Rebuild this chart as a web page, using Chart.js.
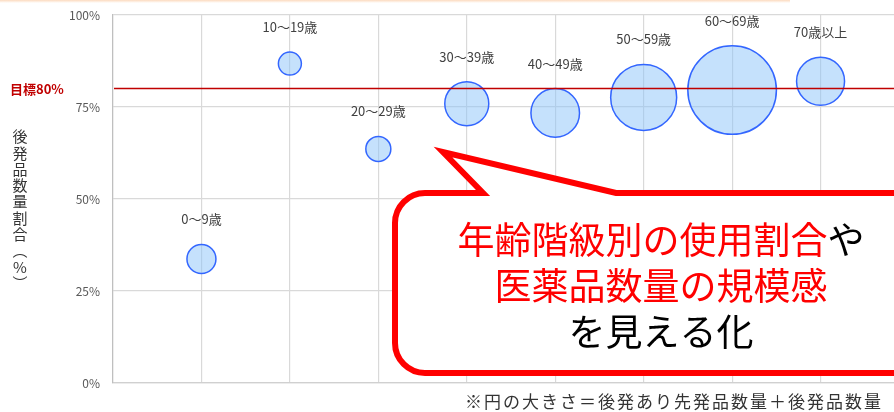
<!DOCTYPE html>
<html lang="ja">
<head>
<meta charset="utf-8">
<title>年齢階級別 後発品数量割合</title>
<script src="https://cdn.jsdelivr.net/npm/chart.js@4.4.1/dist/chart.umd.min.js"></script>
<style>
    html, body { margin: 0; padding: 0; background: #ffffff; overflow: hidden; }
    #wrap { position: relative; width: 930px; height: 412px; }
    #topStrip {
        position: absolute; left: 0; top: 0; width: 790px; height: 3px;
        background: linear-gradient(to bottom, rgba(250, 190, 140, 0.55), rgba(250, 190, 140, 0));
    }
</style>
</head>
<body>
<div id="wrap">
    <canvas id="bubbleChart"></canvas>
    <div id="topStrip"></div>
</div>
<script>
// Data
const ageGroups = ['0〜9歳', '10〜19歳', '20〜29歳', '30〜39歳', '40〜49歳', '50〜59歳', '60〜69歳', '70歳以上'];
const groupPositions = [1, 2, 3, 4, 5, 6, 7, 8];
const genericShare = [33.7, 86.8, 63.6, 75.9, 73.4, 77.6, 79.6, 82.0];   // 後発品数量割合 (%)
const bubbleRadius = [14.5, 11.5, 12.5, 22, 24.3, 33, 44.3, 24];       // 円の大きさ (px)
const yTickValues = [0, 25, 50, 75, 100];
const targetRate = 80;

const axisTitleChars = ['後', '発', '品', '数', '量', '割', '合', '︵', '%', '︶'];
const calloutLines = [
    [{ text: '年齢階級別の使用割合', color: '#ff0000' }, { text: 'や', color: '#000000' }],
    [{ text: '医薬品数量の規模感', color: '#ff0000' }],
    [{ text: 'を見える化', color: '#000000' }]
];
const footNote = '※円の大きさ＝後発あり先発品数量＋後発品数量';

const FONT = '"Noto Sans CJK JP", "Noto Sans", sans-serif';

// Target line, labels and callout drawn on top of the chart
const overlayPlugin = {
    id: 'overlay',
    afterDatasetsDraw(chart) {
        const ctx = chart.ctx;
        const area = chart.chartArea;
        const yTarget = chart.scales.y.getPixelForValue(targetRate);

        ctx.save();
        // 目標ライン
        ctx.strokeStyle = '#c00000';
        ctx.lineWidth = 1.5;
        ctx.beginPath();
        ctx.moveTo(area.left + 1, yTarget);
        ctx.lineTo(area.right, yTarget);
        ctx.stroke();

        ctx.fillStyle = '#c00000';
        ctx.font = 'bold 13px ' + FONT;
        ctx.textAlign = 'left';
        ctx.textBaseline = 'middle';
        ctx.fillText('目標' + targetRate + '%', 10, yTarget);

        // bubble labels
        const meta = chart.getDatasetMeta(0);
        ctx.font = '13px ' + FONT;
        ctx.fillStyle = '#404040';
        ctx.textAlign = 'center';
        meta.data.forEach((pt, i) => {
            ctx.fillText(ageGroups[i], pt.x, pt.y - bubbleRadius[i] - 25);
        });

        // vertical axis title
        ctx.font = '15px ' + FONT;
        ctx.fillStyle = '#333333';
        axisTitleChars.forEach((ch, i) => {
            ctx.fillText(ch, 20, 136.5 + i * 16.3);
        });
        ctx.restore();
    },
    afterDraw(chart) {
        const ctx = chart.ctx;
        ctx.save();
        drawCallout(ctx);

        // foot note
        ctx.font = '17px ' + FONT;
        ctx.fillStyle = '#333333';
        ctx.textAlign = 'left';
        ctx.textBaseline = 'middle';
        ctx.letterSpacing = '2px';
        ctx.fillText(footNote, 465, 402);
        ctx.restore();
    }
};

function drawCallout(ctx) {
    const left = 395, top = 193, right = 929, bottom = 373, r = 30;

    ctx.beginPath();
    ctx.moveTo(left + r, top);
    ctx.lineTo(483, top);
    ctx.lineTo(443, 152);
    ctx.lineTo(616, top);
    ctx.lineTo(right - r, top);
    ctx.arcTo(right, top, right, top + r, r);
    ctx.lineTo(right, bottom - r);
    ctx.arcTo(right, bottom, right - r, bottom, r);
    ctx.lineTo(left + r, bottom);
    ctx.arcTo(left, bottom, left, bottom - r, r);
    ctx.lineTo(left, top + r);
    ctx.arcTo(left, top, left + r, top, r);
    ctx.closePath();
    ctx.fillStyle = '#ffffff';
    ctx.fill();
    ctx.lineJoin = 'miter';
    ctx.strokeStyle = '#ff0000';
    ctx.lineWidth = 6;
    ctx.stroke();

    ctx.font = '37px ' + FONT;
    ctx.textAlign = 'left';
    ctx.textBaseline = 'middle';
    const centerX = 661;
    const lineY = [240, 286, 332];
    calloutLines.forEach((parts, i) => {
        const total = parts.reduce((w, p) => w + ctx.measureText(p.text).width, 0);
        let x = centerX - total / 2;
        parts.forEach(p => {
            ctx.fillStyle = p.color;
            ctx.fillText(p.text, x, lineY[i]);
            x += ctx.measureText(p.text).width;
        });
    });
}

function initializeChart() {
    const ctx = document.getElementById('bubbleChart');
    const points = groupPositions.map((x, i) => ({ x: x, y: genericShare[i], r: bubbleRadius[i] }));

    new Chart(ctx.getContext('2d'), {
        type: 'bubble',
        data: {
            datasets: [{
                label: '後発品数量割合',
                data: points,
                backgroundColor: 'rgba(140, 195, 250, 0.5)',
                borderColor: '#3366ff',
                borderWidth: 1.5
            }]
        },
        options: {
            responsive: true,
            maintainAspectRatio: false,
            animation: false,
            layout: {
                autoPadding: false,
                padding: { top: 15, right: 21, left: 0, bottom: 0 }
            },
            plugins: {
                legend: { display: false },
                tooltip: { enabled: false }
            },
            scales: {
                x: {
                    type: 'linear',
                    min: 0,
                    max: 9,
                    ticks: { display: false, stepSize: 1 },
                    grid: { color: '#d9d9d9', lineWidth: 1.2, drawTicks: false },
                    border: { color: '#d0d0d0', width: 1.2 },
                    afterFit(scale) {
                        scale.height = 29;
                        scale.paddingLeft = 0;
                        scale.paddingRight = 0;
                    }
                },
                y: {
                    min: 0,
                    max: 100,
                    afterBuildTicks(scale) {
                        scale.ticks = yTickValues.map(v => ({ value: v }));
                    },
                    ticks: {
                        padding: 13,
                        color: '#595959',
                        font: { family: FONT, size: 12 },
                        callback: v => v + '%'
                    },
                    grid: { color: '#d9d9d9', lineWidth: 1.2, drawTicks: false },
                    border: { color: '#bfbfbf', width: 1.2 },
                    afterFit(scale) {
                        scale.width = 113;
                        // keep the plot top fixed, labels may overflow into the padding
                        scale.paddingTop = 0;
                        scale.paddingBottom = 0;
                    }
                }
            }
        },
        plugins: [overlayPlugin]
    });
}

document.addEventListener('DOMContentLoaded', initializeChart);
</script>
</body>
</html>
